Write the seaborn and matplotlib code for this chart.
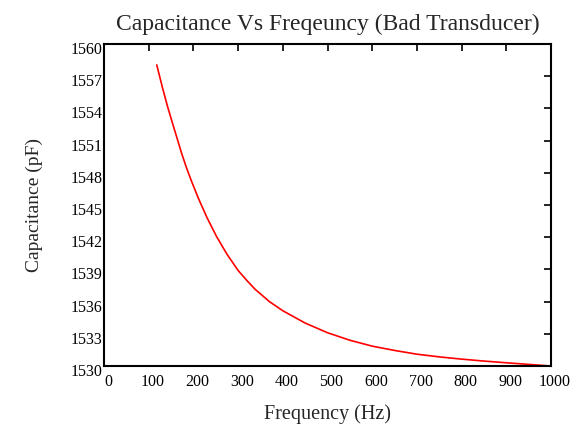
import matplotlib
matplotlib.use("Agg")
import matplotlib.pyplot as plt
import matplotlib.transforms as mtransforms
import seaborn as sns
import pandas as pd

frequency = [118, 131, 142, 153, 164, 174, 185, 195, 211, 230, 252, 275, 300, 320, 338, 370, 400, 450,
             500, 550, 600, 650, 700, 750, 800, 850, 900, 950, 1000]
capacitance = [1558.05, 1555.9, 1554.2, 1552.65, 1551.15, 1549.77, 1548.42, 1547.3, 1545.64, 1543.86,
               1542.05, 1540.42, 1538.9, 1537.95, 1537.15, 1536.0, 1535.15, 1534.0, 1533.1, 1532.4,
               1531.85, 1531.45, 1531.1, 1530.85, 1530.64, 1530.46, 1530.3, 1530.15, 1530.0]

x_ticks = list(range(0, 1001, 100))
y_ticks = list(range(1530, 1561, 3))

sns.set_style("white")
plt.rcParams['font.family'] = ['Liberation Serif', 'DejaVu Serif']

df = pd.DataFrame({"Frequency": frequency, "Capacitance": capacitance})

fig = plt.figure(figsize=(5.72, 4.29), dpi=100)
ax = fig.add_axes([104/572, 1 - 366/429, (551-104)/572, (366-44)/429])
sns.lineplot(data=df, x="Frequency", y="Capacitance", color="#ff0000", linewidth=1.2, ax=ax)

ax.set_xlim(0, 1000)
ax.set_ylim(1530, 1560)
ax.set_xticks(x_ticks)
ax.set_yticks(y_ticks)
ax.tick_params(direction="in", length=5, width=1.2, top=True, right=True, labelsize=11.5, colors="black")
ax.tick_params(axis="x", pad=6)
ax.tick_params(axis="y", pad=1)
for s in ax.spines.values():
    s.set_color("black")
    s.set_linewidth(1.5)

dx = mtransforms.ScaledTranslation(4/100, 0, fig.dpi_scale_trans)
for lbl in ax.get_xticklabels():
    lbl.set_transform(lbl.get_transform() + dx)
dy = mtransforms.ScaledTranslation(0, -4/100, fig.dpi_scale_trans)
for lbl in ax.get_yticklabels():
    lbl.set_transform(lbl.get_transform() + dy)

ax.set_xlabel("Frequency (Hz)", fontsize=14.5, labelpad=10)
ax.set_ylabel("Capacitance (pF)", fontsize=14, labelpad=20)
ax.set_title("Capacitance Vs Freqeuncy (Bad Transducer)", fontsize=17, pad=10)

fig.savefig("out.png", dpi=100)
